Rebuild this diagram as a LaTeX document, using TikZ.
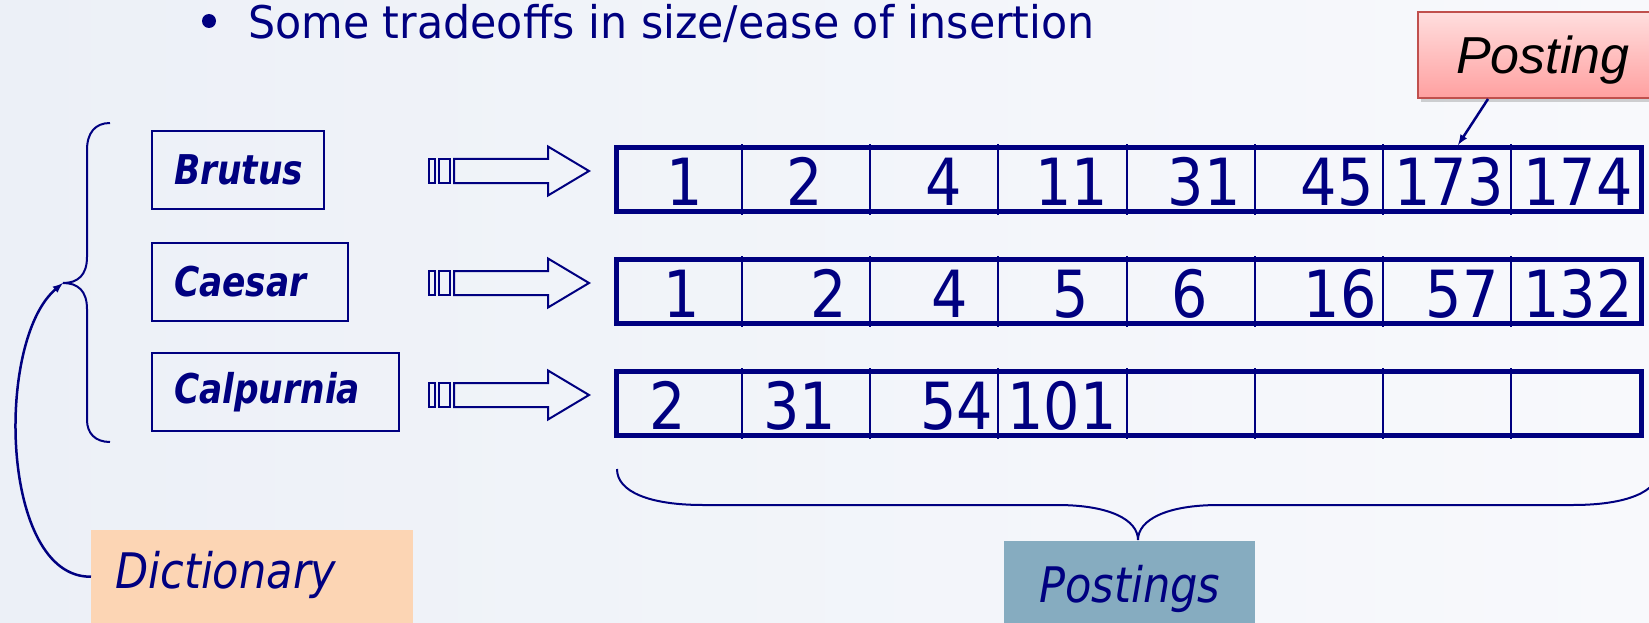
\documentclass[tikz,border=0pt]{standalone}
\usepackage{fontspec}
\setmainfont{DejaVu Sans}[FakeStretch=0.88]
\newfontfamily\titlefont{DejaVu Sans}[FakeStretch=0.95]
\newfontfamily\termfont{DejaVu Sans}[FakeStretch=0.84]
\newfontfamily\arialfont{Liberation Sans}
\usepackage{tikz}
\usetikzlibrary{arrows,shadows,calc}

\begin{document}
\begin{tikzpicture}[x=1pt,y=-1pt,line cap=rect,
    termbox/.style={draw=custcol_0_0_80, line width=2pt, minimum height=78, inner xsep=22, align=left, anchor=west, text=custcol_0_0_80, font=\termfont\fontsize{41}{41}\selectfont\bfseries\itshape},
    postbar/.style={draw=custcol_0_0_80, line width=5pt, minimum width=1025, minimum height=64, inner sep=0},
    divider/.style={draw=custcol_0_0_80, line width=2pt},
    numtext/.style={inner sep=0, anchor=base, text=custcol_0_0_80, font=\fontsize{65}{65}\selectfont},
    blockarrow/.style={draw=custcol_0_0_80, line width=2pt, line join=miter},
    labelbox/.style={anchor=north west, inner ysep=0, text=custcol_0_0_80, font=\fontsize{49}{49}\selectfont\itshape},
    ptr/.style={draw=custcol_0_0_80, line width=2.5pt, line cap=butt, -latex},
    brace/.style={draw=custcol_0_0_80, line width=2pt, line cap=butt}]
    \definecolor{custcol_0_0_80}{RGB}{0, 0, 128}
    \definecolor{custcol_ec_f0_f7}{RGB}{236, 240, 247}
    \definecolor{custcol_f8_f9_fc}{RGB}{248, 249, 252}
    \definecolor{custcol_fc_d5_b4}{RGB}{252, 213, 180}
    \definecolor{custcol_86_ac_c0}{RGB}{134, 172, 192}
    \definecolor{custcol_c0_50_4d}{RGB}{192, 80, 77}
    \definecolor{custcol_ff_de_de}{RGB}{255, 222, 222}
    \definecolor{custcol_ff_a0_a0}{RGB}{255, 160, 160}
    \useasboundingbox (0,0) rectangle (1649,623);
    \shade [left color=custcol_ec_f0_f7, right color=custcol_f8_f9_fc] (0,0) rectangle (1649,623);
    % heading
    \node[circle, fill=custcol_0_0_80, inner sep=0, minimum size=14] (bullet) at (209,21) {};
    \node[inner sep=0, anchor=base west, text=custcol_0_0_80, font=\titlefont\fontsize{45}{45}\selectfont] (title) at (248,39) {Some tradeoffs in size/ease of insertion};
    % dictionary terms
    \node[termbox, text width=128] (brutus) at (151,170) {Brutus};
    \node[termbox, text width=152] (caesar) at (151,282) {Caesar};
    \node[termbox, text width=203] (calpurnia) at (151,392) {Calpurnia};
    \draw[brace] (110,123) .. controls (95,123) and (87,133) .. (87,150) -- (87,257) .. controls (87,275) and (78,283) .. (63,283) coordinate (dtip) .. controls (78,283) and (87,291) .. (87,309) -- (87,420) .. controls (87,433) and (95,442) .. (110,442);
    % hollow arrows
    \foreach \ypos/\r in {171/1,283/2,395/3} {
        \begin{scope}[shift={(0,\ypos)}]
            \draw[blockarrow] (429,-12) rectangle (435,12);
            \draw[blockarrow] (439,-12) rectangle (450,12);
            \draw[blockarrow] (454,-12) -- (548,-12) -- (548,-24.5) -- (589,0) coordinate (tip\r) -- (548,24.5) -- (548,12) -- (454,12) -- cycle;
        \end{scope}
    }
    % postings lists
    \foreach \ypos/\r in {179.5/1,291.5/2,403.5/3} {
        \node[postbar] (bar\r) at (1129,\ypos) {};
        \foreach \k in {1,...,7}
            \draw[divider] ($(bar\r.north west)+(\k*128.125,0)$) -- ($(bar\r.south west)+(\k*128.125,0)$);
    }
    \foreach \x/\v [count=\c] in {685/1,805/2,944/4,1072/11,1204/31,1337/45,1449/173,1578/174}
        \node[numtext] (a\c) at (\x,205) {\v};
    \foreach \x/\v [count=\c] in {682/1,829/2,950/4,1071/5,1190/6,1340/16,1462/57,1578/132}
        \node[numtext] (b\c) at (\x,317) {\v};
    \foreach \x/\v [count=\c] in {668/2,800/31,957/54,1062/101}
        \node[numtext] (c\c) at (\x,429) {\v};
    % single posting
    \node[anchor=north west, draw=custcol_c0_50_4d, line width=2pt, top color=custcol_ff_de_de, bottom color=custcol_ff_a0_a0,
        drop shadow={shadow xshift=3pt, shadow yshift=-4pt, opacity=0.35},
        minimum width=260, minimum height=86, inner xsep=38, inner ysep=0, text width=184, align=left,
        text height=37, text depth=0, font=\arialfont\fontsize{52}{52}\selectfont\itshape] (posting) at (1417,11) {Posting};
    \coordinate (hit) at (1458,145);
    \draw[ptr] ($(posting.south west)+(71,0)$) -- (hit);
    % labels
    \node[labelbox, fill=custcol_fc_d5_b4, minimum width=322, minimum height=93, inner xsep=24, text width=274, align=left, text height=36, text depth=13] (dict) at (91,530) {Dictionary};
    \draw[ptr] (dict.west) .. controls (0,578) and (-5,340) .. (dtip);
    \draw[brace] (617,469) .. controls (617,492) and (650,505) .. (703,505) -- (1057,505) .. controls (1110,505) and (1138,520) .. (1138,540) coordinate (ptip) .. controls (1138,520) and (1166,505) .. (1219,505) -- (1573,505) .. controls (1626,505) and (1659,492) .. (1659,469);
    \node[labelbox, fill=custcol_86_ac_c0, minimum width=251, minimum height=90, align=center, text height=37, text depth=5] (postings) at (1004,541) {Postings};
\end{tikzpicture}
\end{document}
